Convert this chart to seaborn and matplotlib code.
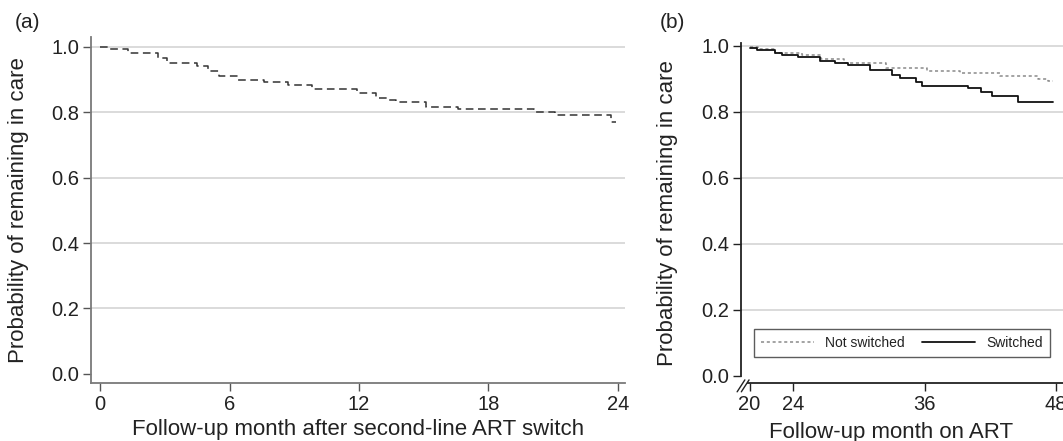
import matplotlib
matplotlib.use("Agg")
import matplotlib.pyplot as plt
import seaborn as sns
import pandas as pd
import numpy as np

# ---------------- data ----------------
# Panel (a): overall retention after second-line switch (Kaplan-Meier steps)
months_a = [0.0, 0.4, 1.3, 2.7, 3.1, 4.5, 5.0, 5.5, 6.4, 7.6, 8.7, 9.8,
            11.9, 12.8, 13.3, 13.7, 15.1, 16.6, 20.1, 21.1, 23.7, 23.9]
surv_a = [1.000, 0.993, 0.980, 0.965, 0.951, 0.940, 0.925, 0.910, 0.900, 0.892,
          0.882, 0.870, 0.859, 0.845, 0.837, 0.832, 0.817, 0.810, 0.801, 0.790,
          0.771, 0.771]

# Panel (b): by switch status, month on ART
months_ns = [20.0, 20.8, 22.3, 24.8, 26.5, 28.6, 32.5, 36.2, 39.2, 42.9, 46.4, 47.3, 47.7]
surv_ns = [0.998, 0.991, 0.980, 0.973, 0.960, 0.949, 0.934, 0.925, 0.917, 0.909,
           0.899, 0.894, 0.894]
months_sw = [20.0, 20.7, 22.3, 23.0, 24.4, 26.4, 27.8, 29.0, 31.0, 33.0, 33.8,
             35.2, 35.8, 40.0, 41.2, 42.2, 44.5, 47.7]
surv_sw = [0.993, 0.988, 0.980, 0.973, 0.968, 0.955, 0.948, 0.942, 0.927, 0.912,
           0.904, 0.892, 0.880, 0.874, 0.861, 0.849, 0.831, 0.831]

series_labels = ["Not switched", "Switched"]
xticks_a = [0, 6, 12, 18, 24]
xticks_b = [20, 24, 36, 48]
yticks = [0.0, 0.2, 0.4, 0.6, 0.8, 1.0]

xlabel_a = "Follow-up month after second-line ART switch"
xlabel_b = "Follow-up month on ART"
ylabel = "Probability of remaining in care"

# ---------------- style ----------------
sns.set_theme(style="white")
plt.rcParams["font.family"] = ["Liberation Sans", "DejaVu Sans"]
txt = "#222222"
LABEL_FS = 16
TICK_FS = 14.5

fig = plt.figure(figsize=(10.63, 4.41), dpi=100)
W, H = 1063, 441

def px_axes(l, r, t, b):
    return fig.add_axes([l / W, (H - b) / H, (r - l) / W, (b - t) / H])

ax_a = px_axes(91, 625, 37, 383)
ax_b = px_axes(741, 1063, 42.7, 383.3)

grid_col = "#d4d4d4"

# ---- panel (a)
df_a = pd.DataFrame({"month": months_a, "surv": surv_a})
sns.lineplot(data=df_a, x="month", y="surv", ax=ax_a, drawstyle="steps-post",
             estimator=None, color="#333333", linewidth=1.1,
             linestyle=(0, (5, 3)))
ax_a.set_xlim(-0.42, 24.33)
ax_a.set_ylim(-0.028, 1.03)
ax_a.set_xticks(xticks_a)
ax_a.set_yticks(yticks)
ax_a.set_yticklabels([f"{v:.1f}" for v in yticks])
for v in yticks[1:]:
    ax_a.axhline(v, color=grid_col, linewidth=1.2, zorder=0)
ax_a.set_xlabel(xlabel_a, fontsize=LABEL_FS, color=txt)
ax_a.set_ylabel(ylabel, fontsize=LABEL_FS, color=txt)
ax_a.xaxis.set_label_coords(0.5, (383 - 419) / 346)
ax_a.yaxis.set_label_coords((29 - 91) / 534, 0.5)
for s in ["top", "right"]:
    ax_a.spines[s].set_visible(False)
for s in ["left", "bottom"]:
    ax_a.spines[s].set_color("#7a7a7a")
    ax_a.spines[s].set_linewidth(1.3)
ax_a.tick_params(axis="both", which="major", direction="out", length=5.5,
                 width=1.0, color="#555555", labelsize=TICK_FS, labelcolor=txt,
                 bottom=True, left=True, pad=3)
fig.text(15 / W, 1 - 23 / H, "(a)", fontsize=15, color=txt, va="center", ha="left")

# ---- panel (b)
df_ns = pd.DataFrame({"month": months_ns, "surv": surv_ns})
df_sw = pd.DataFrame({"month": months_sw, "surv": surv_sw})
sns.lineplot(data=df_ns, x="month", y="surv", ax=ax_b, drawstyle="steps-post",
             estimator=None, color="#8a8a8a", linewidth=1.1,
             linestyle=(0, (2, 1.8)), label=series_labels[0])
sns.lineplot(data=df_sw, x="month", y="surv", ax=ax_b, drawstyle="steps-post",
             estimator=None, color="#111111", linewidth=1.3,
             label=series_labels[1])
ax_b.set_xlim(19.22, 48.66)
ax_b.set_ylim(-0.023, 1.01)
ax_b.set_xticks(xticks_b)
ax_b.set_yticks(yticks)
ax_b.set_yticklabels([f"{v:.1f}" for v in yticks])
for v in yticks[1:]:
    ax_b.axhline(v, color=grid_col, linewidth=1.2, zorder=0)
ax_b.set_xlabel(xlabel_b, fontsize=LABEL_FS, color=txt)
ax_b.set_ylabel(ylabel, fontsize=LABEL_FS, color=txt)
ax_b.xaxis.set_label_coords((891 - 741) / 322, (383.3 - 422) / 340.6)
ax_b.yaxis.set_label_coords((678 - 741) / 322, 0.5)
for s in ["top", "right"]:
    ax_b.spines[s].set_visible(False)
for s in ["left", "bottom"]:
    ax_b.spines[s].set_color("#222222")
    ax_b.spines[s].set_linewidth(1.3)
ax_b.spines["bottom"].set_bounds(19.9, 48.66)
ax_b.spines["left"].set_bounds(0.0, 1.01)
ax_b.tick_params(axis="both", which="major", direction="out", length=5.5,
                 width=1.0, color="#222222", labelsize=TICK_FS, labelcolor=txt,
                 bottom=True, left=True, pad=3)
# axis break marks
trans = ax_b.transAxes
for dx in (0.0, 0.013):
    ax_b.plot([-0.012 + dx, 0.012 + dx], [-0.025, 0.010], transform=trans,
              color="#222222", linewidth=1.0, clip_on=False)
leg = ax_b.legend(loc="lower left", bbox_to_anchor=(0.04, 0.078), ncol=2,
                  fontsize=10, frameon=True, fancybox=False, borderaxespad=0,
                  handlelength=3.8, handletextpad=0.8, columnspacing=1.3,
                  borderpad=0.5)
leg.get_frame().set_edgecolor("#333333")
leg.get_frame().set_linewidth(1.0)
for t in leg.get_texts():
    t.set_color(txt)
fig.text(660 / W, 1 - 22 / H, "(b)", fontsize=15, color=txt, va="center", ha="left")

fig.savefig("out.png", dpi=100)
